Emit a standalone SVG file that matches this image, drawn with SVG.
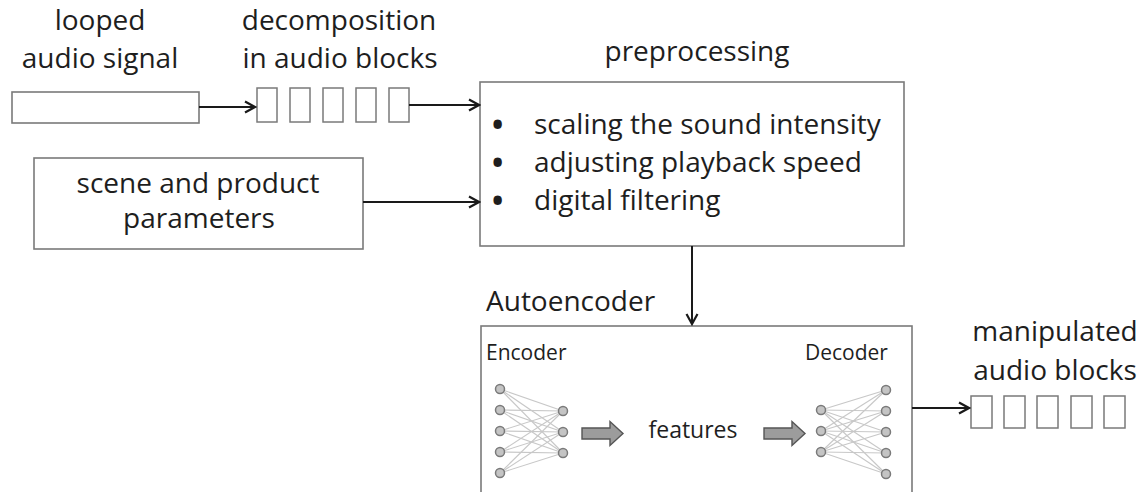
<svg xmlns="http://www.w3.org/2000/svg" width="1146" height="492" viewBox="0 0 1146 492">
<defs>
<marker id="arr" markerWidth="14" markerHeight="14" refX="12" refY="7" orient="auto" markerUnits="userSpaceOnUse">
<path d="M2,1.5 L12,7 L2,12.5" fill="none" stroke="#1a1a1a" stroke-width="2.2"/>
</marker>
<style>
text{font-family:"Open Sans","Liberation Sans",sans-serif;fill:#1e1e1e}
.t28{font-size:28px}
.bul{font-size:30px;font-weight:700}
.box{fill:#fff;stroke:#7a7a7a;stroke-width:1.6}
.blk{fill:#fff;stroke:#7a7a7a;stroke-width:1.5}
.con{fill:none;stroke:#1a1a1a;stroke-width:2;marker-end:url(#arr)}
.nn{stroke:#c8c8c8;stroke-width:1.1}
.nd{fill:#c4c4c4;stroke:#7a7a7a;stroke-width:1.5}
.ba{fill:#9c9c9c;stroke:#555;stroke-width:1.4}
</style>
</defs>
<rect width="1146" height="492" fill="#fff"/>

<g id="looped">
<text class="t28" x="100" y="30" text-anchor="middle">looped</text>
<text class="t28" x="100" y="68" text-anchor="middle">audio signal</text>
<rect class="box" x="12" y="92" width="187" height="31"/>
</g>

<g id="decomposition">
<text class="t28" x="339" y="30" text-anchor="middle">decomposition</text>
<text class="t28" x="340" y="68" text-anchor="middle">in audio blocks</text>
<rect class="blk" x="257" y="88" width="20" height="34"/>
<rect class="blk" x="290" y="88" width="20" height="34"/>
<rect class="blk" x="323" y="88" width="20" height="34"/>
<rect class="blk" x="356" y="88" width="20" height="34"/>
<rect class="blk" x="389" y="88" width="20" height="34"/>
</g>

<g id="scene">
<rect class="box" x="34" y="158" width="329" height="91"/>
<text class="t28" x="198" y="193" text-anchor="middle">scene and product</text>
<text class="t28" x="199" y="228" text-anchor="middle">parameters</text>
</g>

<g id="preprocessing">
<text class="t28" x="697" y="61" text-anchor="middle">preprocessing</text>
<rect class="box" x="480" y="82" width="424" height="164"/>
<text class="bul" x="492" y="135">•</text>
<text class="t28" x="534" y="134">scaling the sound intensity</text>
<text class="bul" x="492" y="173">•</text>
<text class="t28" x="534" y="172">adjusting playback speed</text>
<text class="bul" x="492" y="211">•</text>
<text class="t28" x="534" y="210">digital filtering</text>
</g>

<g id="autoencoder">
<text class="t28" x="486" y="311">Autoencoder</text>
<rect class="box" x="481" y="326" width="431" height="175"/>
<text x="486" y="360" font-size="21">Encoder</text>
<text x="805" y="360" font-size="21">Decoder</text>
<g id="encoder-net">
<g class="nn">
<line x1="500" y1="389" x2="563" y2="411"/><line x1="500" y1="389" x2="563" y2="432"/><line x1="500" y1="389" x2="563" y2="453"/>
<line x1="500" y1="410" x2="563" y2="411"/><line x1="500" y1="410" x2="563" y2="432"/><line x1="500" y1="410" x2="563" y2="453"/>
<line x1="500" y1="431" x2="563" y2="411"/><line x1="500" y1="431" x2="563" y2="432"/><line x1="500" y1="431" x2="563" y2="453"/>
<line x1="500" y1="452" x2="563" y2="411"/><line x1="500" y1="452" x2="563" y2="432"/><line x1="500" y1="452" x2="563" y2="453"/>
<line x1="500" y1="473" x2="563" y2="411"/><line x1="500" y1="473" x2="563" y2="432"/><line x1="500" y1="473" x2="563" y2="453"/>
</g>
<circle class="nd" cx="500" cy="389" r="4.5"/><circle class="nd" cx="500" cy="410" r="4.5"/><circle class="nd" cx="500" cy="431" r="4.5"/><circle class="nd" cx="500" cy="452" r="4.5"/><circle class="nd" cx="500" cy="473" r="4.5"/>
<circle class="nd" cx="563" cy="411" r="4.5"/><circle class="nd" cx="563" cy="432" r="4.5"/><circle class="nd" cx="563" cy="453" r="4.5"/>
</g>
<path class="ba" d="M582,428 H610 V421.5 L623,433.5 L610,445.5 V439 H582 Z"/>
<text x="693" y="438" font-size="23" text-anchor="middle">features</text>
<path class="ba" d="M764,428 H792 V421.5 L805,433.5 L792,445.5 V439 H764 Z"/>
<g id="decoder-net">
<g class="nn">
<line x1="821" y1="410" x2="886" y2="390"/><line x1="821" y1="410" x2="886" y2="411"/><line x1="821" y1="410" x2="886" y2="432"/><line x1="821" y1="410" x2="886" y2="453"/><line x1="821" y1="410" x2="886" y2="474"/>
<line x1="821" y1="431" x2="886" y2="390"/><line x1="821" y1="431" x2="886" y2="411"/><line x1="821" y1="431" x2="886" y2="432"/><line x1="821" y1="431" x2="886" y2="453"/><line x1="821" y1="431" x2="886" y2="474"/>
<line x1="821" y1="452" x2="886" y2="390"/><line x1="821" y1="452" x2="886" y2="411"/><line x1="821" y1="452" x2="886" y2="432"/><line x1="821" y1="452" x2="886" y2="453"/><line x1="821" y1="452" x2="886" y2="474"/>
</g>
<circle class="nd" cx="821" cy="410" r="4.5"/><circle class="nd" cx="821" cy="431" r="4.5"/><circle class="nd" cx="821" cy="452" r="4.5"/>
<circle class="nd" cx="886" cy="390" r="4.5"/><circle class="nd" cx="886" cy="411" r="4.5"/><circle class="nd" cx="886" cy="432" r="4.5"/><circle class="nd" cx="886" cy="453" r="4.5"/><circle class="nd" cx="886" cy="474" r="4.5"/>
</g>
</g>

<g id="manipulated">
<text class="t28" x="1055" y="341" text-anchor="middle">manipulated</text>
<text class="t28" x="1055" y="380" text-anchor="middle">audio blocks</text>
<rect class="blk" x="971" y="396" width="21" height="32"/>
<rect class="blk" x="1004" y="396" width="21" height="32"/>
<rect class="blk" x="1037" y="396" width="21" height="32"/>
<rect class="blk" x="1071" y="396" width="21" height="32"/>
<rect class="blk" x="1104" y="396" width="21" height="32"/>
</g>

<g id="connectors">
<line class="con" x1="199" y1="107" x2="255" y2="107"/>
<line class="con" x1="409" y1="105" x2="479" y2="105"/>
<line class="con" x1="363" y1="202" x2="479" y2="202"/>
<line class="con" x1="692" y1="246" x2="692" y2="324"/>
<line class="con" x1="912" y1="408" x2="969" y2="408"/>
</g>
</svg>
